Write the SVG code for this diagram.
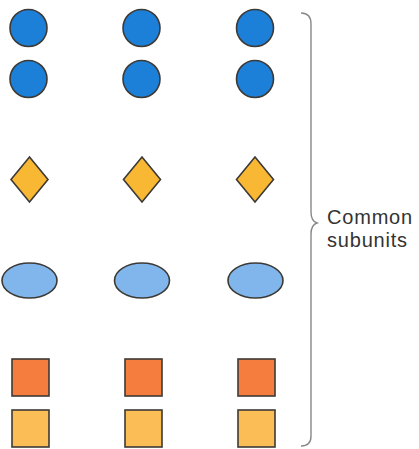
<svg xmlns="http://www.w3.org/2000/svg" width="419" height="449" viewBox="0 0 419 449">
<style>
.s{stroke:#3d3a36;stroke-width:1.6}
.c{fill:#1c7fd8}
.d{fill:#f9b834}
.e{fill:#80b6ec}
.o{fill:#f57e3e}
.y{fill:#fbbd55}
.t{font-family:"Liberation Sans",Arial,sans-serif;font-size:20px;letter-spacing:0.8px;fill:#333}
.br{fill:none;stroke:#888;stroke-width:1.4}
</style>
<rect width="419" height="449" fill="#fff"/>
<g id="col1">
<circle class="c s" cx="28.5" cy="28" r="18.5"/>
<circle class="c s" cx="28.5" cy="79" r="18.5"/>
<polygon class="d s" points="29.5,157 48,179.5 29.5,202 11,179.5"/>
<ellipse class="e s" cx="29.5" cy="280.5" rx="27.5" ry="17.5"/>
<rect class="o s" x="12" y="359" width="37" height="37"/>
<rect class="y s" x="12" y="410" width="37" height="37"/>
</g>
<g id="col2">
<circle class="c s" cx="141.5" cy="28" r="18.5"/>
<circle class="c s" cx="141.5" cy="79" r="18.5"/>
<polygon class="d s" points="142,157 160.5,179.5 142,202 123.5,179.5"/>
<ellipse class="e s" cx="142" cy="280.5" rx="27.5" ry="17.5"/>
<rect class="o s" x="125" y="359" width="37" height="37"/>
<rect class="y s" x="125" y="410" width="37" height="37"/>
</g>
<g id="col3">
<circle class="c s" cx="255" cy="28" r="18.5"/>
<circle class="c s" cx="255" cy="79" r="18.5"/>
<polygon class="d s" points="255,157 273.5,179.5 255,202 236.5,179.5"/>
<ellipse class="e s" cx="255.5" cy="280.5" rx="27.5" ry="17.5"/>
<rect class="o s" x="238" y="359" width="37" height="37"/>
<rect class="y s" x="238" y="410" width="37" height="37"/>
</g>
<g id="bracket">
<path class="br" d="M301,13 Q311,13 311,24 V212 Q311,221 317,223 Q311,225 311,234 V436 Q311,446 301,446"/>
<text class="t" x="327" y="224">Common</text>
<text class="t" x="327" y="247">subunits</text>
</g>
</svg>
